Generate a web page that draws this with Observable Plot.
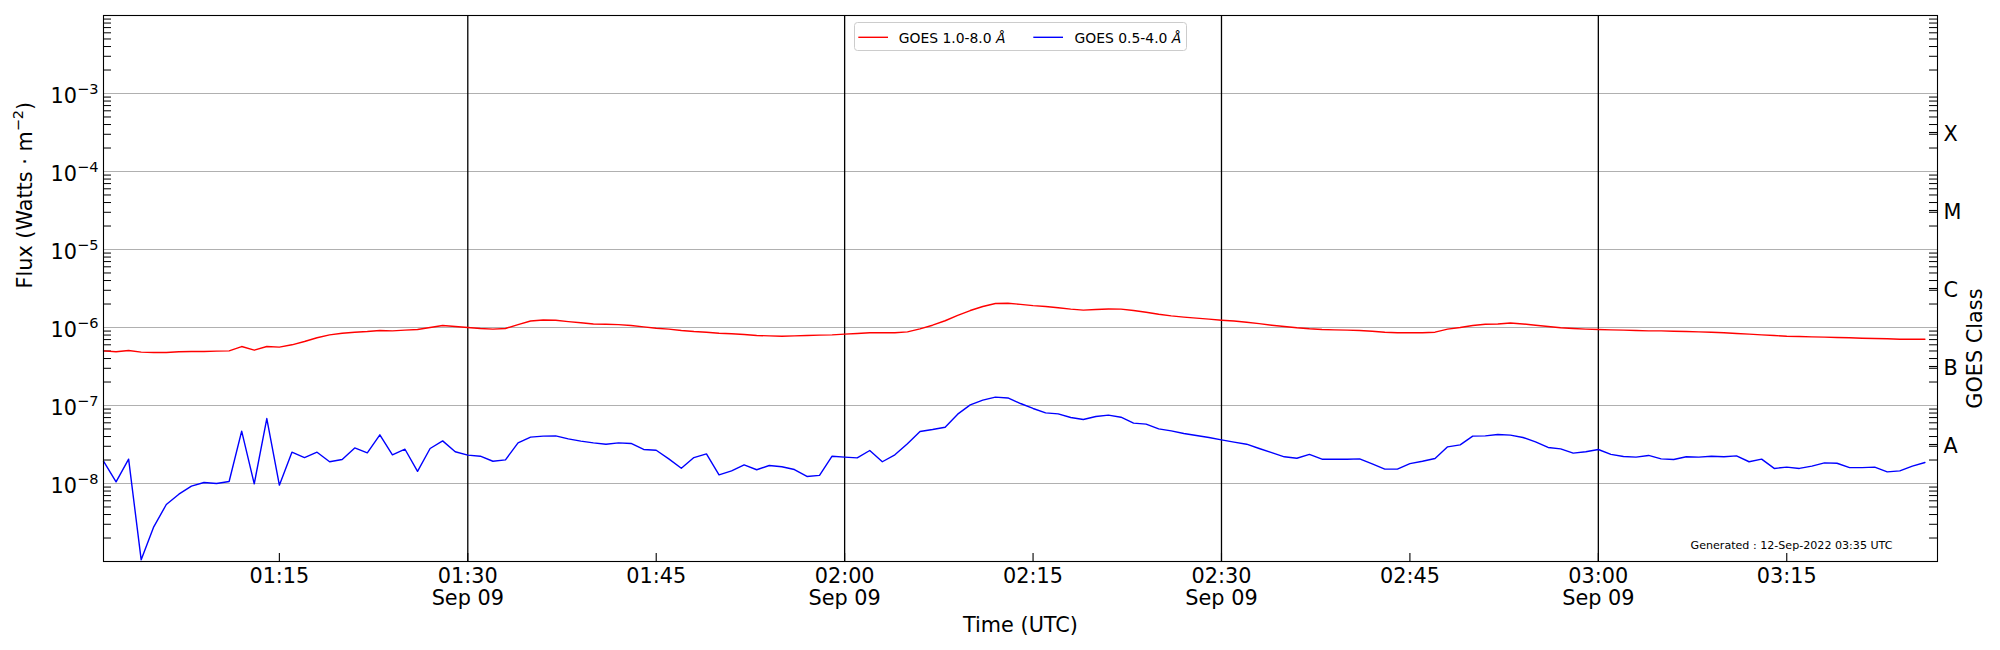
<!DOCTYPE html>
<html><head><meta charset="utf-8">
<script src="https://cdn.jsdelivr.net/npm/d3@7"></script>
<script src="https://cdn.jsdelivr.net/npm/@observablehq/plot@0.6"></script>
<style>
html,body{margin:0;padding:0;background:#fff;}
#fig{position:relative;width:2000px;height:650px;font-family:"DejaVu Sans",sans-serif;}
#fig svg{display:block;}
#legend{position:absolute;left:0;top:0;pointer-events:none;}
</style></head><body><div id="fig"></div>
<script>
// ---- data ----
const startTime = "2022-09-09T01:01:00Z";   // first 1-minute sample
const endTime = "2022-09-09T03:27:00Z";     // axis end
const seriesNames = ["GOES 1.0-8.0 Å", "GOES 0.5-4.0 Å"];
const seriesColors = ["red", "blue"];
// GOES 1.0-8.0 Å flux (W m^-2), 1-minute cadence from 01:01
const xrsLong = [
5.02e-7,4.88e-7,5.07e-7,4.83e-7,4.78e-7,4.78e-7,4.88e-7,4.92e-7,4.92e-7,4.98e-7,
5.02e-7,5.70e-7,5.12e-7,5.70e-7,5.60e-7,6.00e-7,6.62e-7,7.38e-7,8.05e-7,8.45e-7,
8.71e-7,8.89e-7,9.16e-7,9.06e-7,9.25e-7,9.42e-7,1.00e-6,1.06e-6,1.03e-6,1.00e-6,
9.70e-7,9.53e-7,9.70e-7,1.09e-6,1.21e-6,1.25e-6,1.24e-6,1.19e-6,1.15e-6,1.11e-6,
1.10e-6,1.09e-6,1.06e-6,1.02e-6,9.79e-7,9.53e-7,9.16e-7,8.89e-7,8.71e-7,8.45e-7,
8.30e-7,8.13e-7,7.89e-7,7.82e-7,7.74e-7,7.82e-7,7.89e-7,7.98e-7,8.05e-7,8.22e-7,
8.37e-7,8.55e-7,8.55e-7,8.55e-7,8.79e-7,9.62e-7,1.07e-6,1.22e-6,1.43e-6,1.65e-6,
1.86e-6,2.03e-6,2.05e-6,1.98e-6,1.91e-6,1.86e-6,1.79e-6,1.72e-6,1.67e-6,1.70e-6,
1.73e-6,1.72e-6,1.65e-6,1.57e-6,1.48e-6,1.41e-6,1.36e-6,1.32e-6,1.28e-6,1.24e-6,
1.21e-6,1.17e-6,1.12e-6,1.07e-6,1.03e-6,9.91e-7,9.62e-7,9.42e-7,9.33e-7,9.25e-7,
9.16e-7,8.97e-7,8.71e-7,8.55e-7,8.55e-7,8.55e-7,8.71e-7,9.53e-7,1.00e-6,1.06e-6,
1.10e-6,1.11e-6,1.14e-6,1.11e-6,1.07e-6,1.03e-6,9.91e-7,9.70e-7,9.53e-7,9.42e-7,
9.33e-7,9.25e-7,9.16e-7,9.06e-7,9.06e-7,8.97e-7,8.89e-7,8.79e-7,8.71e-7,8.55e-7,
8.37e-7,8.22e-7,8.05e-7,7.89e-7,7.74e-7,7.67e-7,7.59e-7,7.52e-7,7.45e-7,7.38e-7,
7.29e-7,7.23e-7,7.16e-7,7.08e-7,7.08e-7,7.08e-7
];
// GOES 0.5-4.0 Å flux (W m^-2)
const xrsShort = [
1.93e-8,1.05e-8,2.05e-8,1.05e-9,2.78e-9,5.38e-9,7.29e-9,9.25e-9,1.03e-8,1.00e-8,
1.06e-8,4.69e-8,9.91e-9,6.81e-8,9.53e-9,2.52e-8,2.15e-8,2.52e-8,1.90e-8,2.03e-8,
2.86e-8,2.47e-8,4.21e-8,2.33e-8,2.75e-8,1.43e-8,2.81e-8,3.52e-8,2.55e-8,2.31e-8,
2.24e-8,1.93e-8,2.01e-8,3.32e-8,3.93e-8,4.05e-8,4.08e-8,3.73e-8,3.49e-8,3.32e-8,
3.19e-8,3.32e-8,3.26e-8,2.73e-8,2.67e-8,2.07e-8,1.57e-8,2.15e-8,2.40e-8,1.29e-8,
1.45e-8,1.73e-8,1.50e-8,1.70e-8,1.64e-8,1.51e-8,1.23e-8,1.27e-8,2.24e-8,2.18e-8,
2.13e-8,2.65e-8,1.90e-8,2.33e-8,3.23e-8,4.65e-8,4.92e-8,5.27e-8,7.74e-8,1.02e-7,
1.17e-7,1.28e-7,1.25e-7,1.06e-7,9.16e-8,8.05e-8,7.82e-8,7.01e-8,6.62e-8,7.23e-8,
7.52e-8,7.08e-8,5.94e-8,5.77e-8,5.02e-8,4.73e-8,4.38e-8,4.12e-8,3.89e-8,3.63e-8,
3.39e-8,3.19e-8,2.81e-8,2.49e-8,2.20e-8,2.11e-8,2.36e-8,2.05e-8,2.05e-8,2.05e-8,
2.07e-8,1.79e-8,1.53e-8,1.53e-8,1.80e-8,1.93e-8,2.09e-8,2.95e-8,3.13e-8,4.05e-8,
4.08e-8,4.25e-8,4.17e-8,3.89e-8,3.42e-8,2.90e-8,2.78e-8,2.45e-8,2.55e-8,2.73e-8,
2.36e-8,2.22e-8,2.18e-8,2.29e-8,2.07e-8,2.03e-8,2.20e-8,2.18e-8,2.24e-8,2.20e-8,
2.26e-8,1.90e-8,2.05e-8,1.56e-8,1.62e-8,1.56e-8,1.67e-8,1.84e-8,1.82e-8,1.60e-8,
1.60e-8,1.62e-8,1.41e-8,1.45e-8,1.67e-8,1.86e-8
];
const yDomain = [1e-9, 1e-2];
const yTickValues = [1e-8, 1e-7, 1e-6, 1e-5, 1e-4, 1e-3];
const classLabels = ["A", "B", "C", "M", "X"];
const classCenters = [3.162e-8, 3.162e-7, 3.162e-6, 3.162e-5, 3.162e-4];
const xTickTimes = ["01:15", "01:30", "01:45", "02:00", "02:15", "02:30", "02:45", "03:00", "03:15"];
const vLineTimes = ["01:30", "02:00", "02:30", "03:00"];
const dayLabel = "Sep 09";
const xLabel = "Time (UTC)";
const yLabel = "Flux (Watts · m^{−2})";
const y2Label = "GOES Class";
const generatedText = "Generated : 12-Sep-2022 03:35 UTC";

// ---- derived tables ----
const t0 = new Date(startTime);
const toDate = hm => new Date(`2022-09-09T${hm}:00Z`);
const rowsLong = xrsLong.map((v, i) => ({time: new Date(+t0 + i * 60000), flux: v}));
const rowsShort = xrsShort.map((v, i) => ({time: new Date(+t0 + i * 60000), flux: v}));
const xTicks = xTickTimes.map(toDate);
const vLines = vLineTimes.map(toDate);
const minorTicks = [];
for (let e = -9; e < -2; e++) for (let k = 2; k <= 9; k++) minorTicks.push(k * Math.pow(10, e));
const classData = classLabels.map((label, i) => ({label, center: classCenters[i]}));

const W = 2000, H = 650, mL = 103, mR = 63, mT = 15, mB = 89;
const plotW = W - mL - mR, plotH = H - mT - mB;
const tickLen = 8;
const FS = 20.8;
const fmtHM = d3.utcFormat("%H:%M");

const chart = Plot.plot({
  width: W, height: H,
  marginLeft: mL, marginRight: mR, marginTop: mT, marginBottom: mB,
  style: {fontFamily: "DejaVu Sans", fontSize: FS + "px", color: "black", background: "white"},
  x: {type: "utc", domain: [new Date(startTime), new Date(endTime)], axis: null},
  y: {type: "log", domain: yDomain, axis: null},
  marks: [
    Plot.ruleY(yTickValues, {y: d => d, stroke: "#b0b0b0", strokeWidth: 1.1}),
    Plot.ruleX(vLines, {x: d => d, stroke: "black", strokeWidth: 1.3}),
    Plot.ruleY(minorTicks, {y: d => d, stroke: "black", strokeWidth: 1, insetRight: plotW - tickLen}),
    Plot.ruleY(minorTicks, {y: d => d, stroke: "black", strokeWidth: 1, insetLeft: plotW - tickLen}),
    Plot.ruleY(classData, {y: "center", stroke: "black", strokeWidth: 1.1, insetLeft: plotW - tickLen}),
    Plot.ruleX(xTicks, {x: d => d, stroke: "black", strokeWidth: 1.1, insetTop: plotH - tickLen}),
    Plot.line(rowsLong, {x: "time", y: "flux", stroke: seriesColors[0], strokeWidth: 1.4}),
    Plot.line(rowsShort, {x: "time", y: "flux", stroke: seriesColors[1], strokeWidth: 1.4}),
    Plot.frame({stroke: "black", strokeWidth: 1.1}),
    Plot.axisX(xTicks, {
      tickSize: 0, tickPadding: 6, fontSize: FS, lineHeight: 1.045, label: null,
      tickFormat: d => fmtHM(d) + (d.getUTCMinutes() % 30 === 0 ? "\n" + dayLabel : "")
    }),
    Plot.text(yTickValues, {
      y: d => d, frameAnchor: "left", textAnchor: "end", lineAnchor: "bottom", dx: -5, dy: 9,
      fontSize: FS, text: d => `10^{−${Math.round(-Math.log10(d))}}`
    }),
    Plot.text(classData, {
      y: "center", text: "label", frameAnchor: "right", textAnchor: "start",
      lineAnchor: "middle", dx: 6, dy: 2, fontSize: FS
    }),
    Plot.text([xLabel], {text: d => d, frameAnchor: "bottom", dy: 70, lineAnchor: "bottom", fontSize: FS}),
    Plot.text([yLabel], {text: d => d, frameAnchor: "left", dx: -71.3, rotate: -90, lineAnchor: "bottom", fontSize: FS}),
    Plot.text([y2Label], {text: d => d, frameAnchor: "right", dx: 44, rotate: -90, lineAnchor: "bottom", fontSize: FS}),
    Plot.text([generatedText], {text: d => d, frameAnchor: "bottom-right", dx: -45, dy: -13, textAnchor: "end", lineAnchor: "bottom", fontSize: 11.1})
  ]
});

// superscripts: "a^{b}c"
const NS = "http://www.w3.org/2000/svg";
chart.querySelectorAll("text").forEach(el => {
  if (el.children.length || !el.textContent.includes("^{")) return;
  const fs = parseFloat(el.getAttribute("font-size")) || FS;
  const shift = fs * 0.43;
  const parts = el.textContent.split(/\^\{([^}]*)\}/);
  el.textContent = "";
  let raised = false;
  parts.forEach((p, i) => {
    if (!p) return;
    const ts = document.createElementNS(NS, "tspan");
    ts.textContent = p;
    if (i % 2 === 1) { ts.setAttribute("dy", -shift); ts.setAttribute("font-size", fs * 0.7); raised = true; }
    else if (raised) { ts.setAttribute("dy", shift); raised = false; }
    el.appendChild(ts);
  });
});

const fig = document.getElementById("fig");
fig.appendChild(chart);

// legend overlay (matplotlib-style box)
const leg = d3.select(fig).append("svg").attr("id", "legend").attr("width", W).attr("height", H)
  .attr("font-family", "DejaVu Sans").attr("font-size", 13.9);
leg.append("rect").attr("x", 854.5).attr("y", 22.5).attr("width", 332).attr("height", 28).attr("rx", 3)
  .attr("fill", "white").attr("fill-opacity", 0.8).attr("stroke", "#cccccc").attr("stroke-width", 1);
const items = [{x0: 858.3, tx: 898.7}, {x0: 1033.3, tx: 1074.5}];
items.forEach((it, i) => {
  leg.append("line").attr("x1", it.x0).attr("x2", it.x0 + 29.7).attr("y1", 37.3).attr("y2", 37.3)
    .attr("stroke", seriesColors[i]).attr("stroke-width", 1.4);
  const name = seriesNames[i];
  const t = leg.append("text").attr("x", it.tx).attr("y", 42.6).attr("fill", "black");
  t.append("tspan").text(name.slice(0, -1));
  t.append("tspan").attr("font-style", "italic").text(name.slice(-1));
});
</script></body></html>
